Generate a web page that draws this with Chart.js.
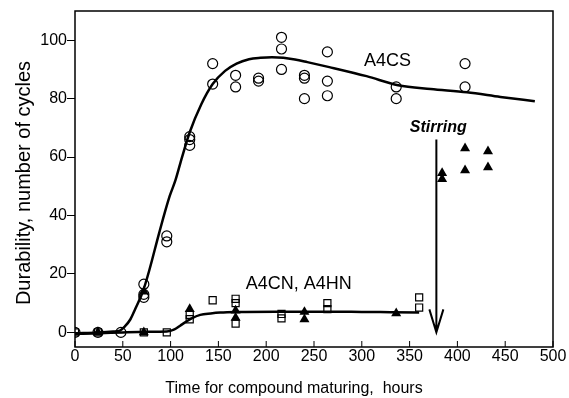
<!DOCTYPE html>
<html>
<head>
<meta charset="utf-8">
<script src="https://cdn.jsdelivr.net/npm/chart.js@4.4.1/dist/chart.umd.min.js"></script>
<style>
  html, body { margin: 0; padding: 0; background: #fff; }
  #wrap { width: 569px; height: 398px; }
</style>
</head>
<body>
<div id="wrap"><canvas id="chart" width="569" height="398"></canvas></div>
<script>
// measured points, hours vs cycles
const a4csPoints = [
  [0, 0], [24, 0], [48, 0], [72, 16.5], [72, 13], [72, 12], [96, 33], [96, 31],
  [120, 67], [120, 66], [120, 64], [144, 92], [144, 85], [168, 88], [168, 84],
  [192, 87], [192, 86], [216, 101], [216, 97], [216, 90], [240, 88], [240, 87], [240, 80],
  [264, 96], [264, 86], [264, 81], [336, 84], [336, 80], [408, 92], [408, 84]
];
const a4cnPoints = [
  [0, 0], [24, 0], [72, 0], [96, 0], [120, 6], [120, 4.5], [144, 11],
  [168, 11.5], [168, 10], [168, 3], [216, 6.3], [216, 4.8], [264, 10], [264, 8],
  [360, 12], [360, 8.5]
];
const a4hnPoints = [
  [24, 0], [72, 0], [72, 14], [120, 8], [168, 7.5], [168, 5], [240, 7], [240, 4.5],
  [336, 6.5], [384, 54.5], [384, 52.5], [408, 63], [408, 55.5], [432, 62], [432, 56.5]
];
// fitted curves
const a4csCurve = [
  [0, -0.3], [25, 0], [40, 0.3], [47, 0.6], [52, 2], [58, 4.5], [63, 8], [71, 14], [78, 21.6],
  [88, 34], [99, 46.6], [105, 52], [112, 60], [120, 68.5], [132, 78], [144, 85], [157, 89.5],
  [169, 92], [182, 93.5], [194, 94], [206, 94.2], [218, 94], [230, 93.4], [243, 92.5],
  [266, 90.8], [305, 87.7], [338, 84.6], [372, 83.3], [410, 82.2], [445, 80.6], [481, 79.1]
];
const a4cnCurve = [
  [0, -0.5], [25, -0.3], [50, 0], [75, 0.2], [96, 0.3], [104, 1], [110, 2.3], [116, 3.6],
  [122, 4.8], [131, 6], [142, 6.5], [152, 6.8], [170, 7], [210, 7.1], [260, 7.1],
  [300, 7], [330, 6.9], [360, 6.8]
];
const xTickValues = [0, 50, 100, 150, 200, 250, 300, 350, 400, 450, 500];
const yTickValues = [0, 20, 40, 60, 80, 100];

const xTitle = 'Time for compound maturing,  hours';
const yTitle = 'Durability, number of cycles';

// annotations (data units)
const stirringX = 378, stirringTop = 66, stirringBottom = 0;
const labels = [
  { text: 'A4CS', x: 327, y: 93, font: '18px "Liberation Sans", Arial, sans-serif' },
  { text: 'A4CN, A4HN', x: 234, y: 16.4, font: '18px "Liberation Sans", Arial, sans-serif' },
  { text: 'Stirring', x: 380, y: 70, font: 'italic bold 16px "Liberation Sans", Arial, sans-serif' }
];

const toXY = arr => arr.map(p => ({ x: p[0], y: p[1] }));
const FONT = '"Liberation Sans", Arial, sans-serif';

const decorPlugin = {
  id: 'decor',
  afterDatasetsDraw(chart) {
    const { ctx, chartArea: a, scales: { x, y } } = chart;
    ctx.save();
    ctx.strokeStyle = '#000';
    ctx.lineWidth = 1.5;
    ctx.strokeRect(a.left, a.top, a.right - a.left, a.bottom - a.top);
    // inward ticks on x axis
    ctx.lineWidth = 1;
    xTickValues.forEach(v => {
      const px = x.getPixelForValue(v);
      ctx.beginPath();
      ctx.moveTo(px, a.bottom);
      ctx.lineTo(px, a.bottom - 6);
      ctx.stroke();
    });
    // stirring arrow
    const ax = x.getPixelForValue(stirringX);
    const at = y.getPixelForValue(stirringTop);
    const ab = y.getPixelForValue(stirringBottom);
    ctx.lineWidth = 2;
    ctx.beginPath();
    ctx.moveTo(ax, at);
    ctx.lineTo(ax, ab);
    ctx.moveTo(ax - 7, ab - 23);
    ctx.lineTo(ax, ab);
    ctx.lineTo(ax + 7, ab - 23);
    ctx.stroke();
    // text labels
    ctx.fillStyle = '#000';
    ctx.textAlign = 'center';
    ctx.textBaseline = 'middle';
    labels.forEach(l => {
      ctx.font = l.font;
      ctx.fillText(l.text, x.getPixelForValue(l.x), y.getPixelForValue(l.y));
    });
    // axis titles (the original sits a little off centre)
    ctx.font = '16px ' + FONT;
    ctx.fillText(xTitle, a.left + 219, a.bottom + 42);
    ctx.translate(24, (a.top + a.bottom) / 2 + 4);
    ctx.rotate(-Math.PI / 2);
    ctx.font = '20px ' + FONT;
    ctx.fillText(yTitle, 0, 0);
    ctx.restore();
  }
};

new Chart(document.getElementById('chart'), {
  type: 'scatter',
  data: {
    datasets: [
      {
        label: 'A4CS fit',
        data: toXY(a4csCurve),
        showLine: true,
        borderColor: '#000',
        borderWidth: 2.5,
        pointRadius: 0,
        cubicInterpolationMode: 'monotone'
      },
      {
        label: 'A4CN fit',
        data: toXY(a4cnCurve),
        showLine: true,
        borderColor: '#000',
        borderWidth: 2.5,
        pointRadius: 0,
        cubicInterpolationMode: 'monotone'
      },
      {
        label: 'A4CS',
        data: toXY(a4csPoints),
        pointStyle: 'circle',
        pointRadius: 5,
        pointBorderWidth: 1.2,
        pointBorderColor: '#000',
        pointBackgroundColor: 'rgba(0,0,0,0)'
      },
      {
        label: 'A4CN',
        data: toXY(a4cnPoints),
        pointStyle: 'rect',
        pointRadius: 5,
        pointBorderWidth: 1.2,
        pointBorderColor: '#000',
        pointBackgroundColor: 'rgba(0,0,0,0)'
      },
      {
        label: 'A4HN',
        data: toXY(a4hnPoints),
        pointStyle: 'triangle',
        pointRadius: 5.8,
        pointBorderWidth: 0,
        pointBorderColor: '#000',
        pointBackgroundColor: '#000'
      }
    ]
  },
  options: {
    responsive: false,
    animation: false,
    layout: { padding: { left: 0, top: 11, right: 16, bottom: 0 } },
    plugins: {
      legend: { display: false },
      tooltip: { enabled: false }
    },
    scales: {
      x: {
        type: 'linear',
        min: 0,
        max: 500,
        afterFit: s => { s.height = 51; },
        afterBuildTicks: s => { s.ticks = xTickValues.map(v => ({ value: v })); },
        grid: { display: false, drawTicks: false },
        border: { display: false },
        ticks: {
          autoSkip: false,
          maxRotation: 0,
          padding: 0,
          color: '#000',
          font: { family: FONT, size: 16 }
        },
        title: { display: false }
      },
      y: {
        min: -5,
        max: 110,
        afterFit: s => { s.width = 75; },
        afterBuildTicks: s => { s.ticks = yTickValues.map(v => ({ value: v })); },
        grid: { drawOnChartArea: false, tickLength: 8, color: '#000', lineWidth: 1 },
        border: { display: false },
        ticks: {
          padding: 0,
          color: '#000',
          font: { family: FONT, size: 16 }
        },
        title: { display: false }
      }
    }
  },
  plugins: [decorPlugin]
});
</script>
</body>
</html>
